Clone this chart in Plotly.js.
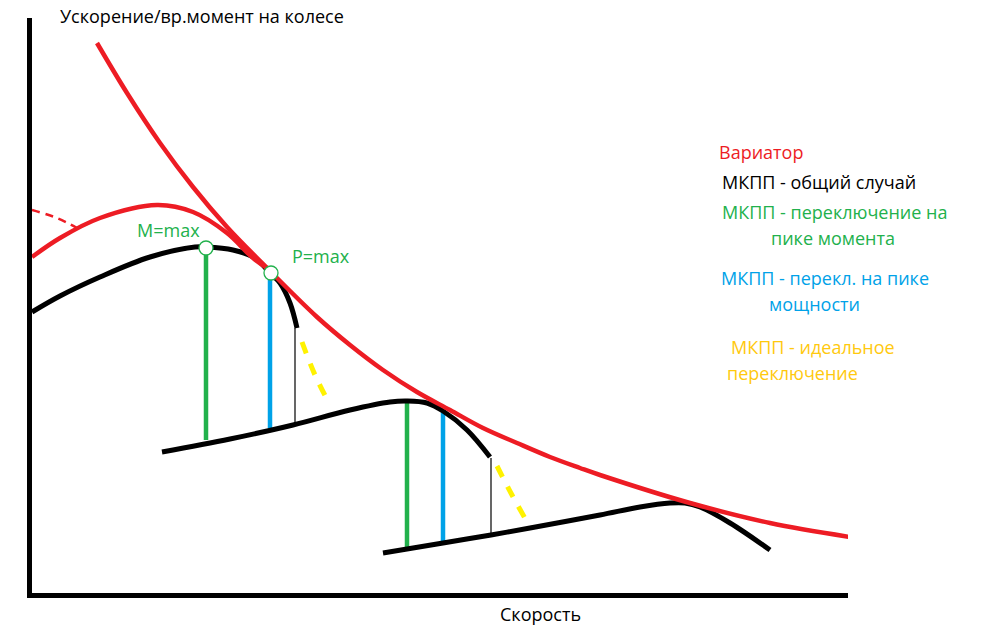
<!DOCTYPE html>
<html><head><meta charset="utf-8">
<script src="https://cdn.plot.ly/plotly-3.0.1.min.js"></script>
<style>html,body{margin:0;padding:0;background:#fff}#chart{width:1008px;height:630px}</style>
</head><body><div id="chart"></div>
<script>
// Units: speed (x) and wheel torque / acceleration (y), arbitrary
const cvtX = [65,95,128,161,195,235,285,318,351,385,418,451,485,518,548,568,658,738,818];
const cvtY = [555,505,455,411,371,330,281,253,228,206,188,170,155,141,130,123,95,75,61];
const cvtLowX = [0,28,68,125,161,195,221,235];
const cvtLowY = [341,360,380,393,386,365,340,330];
const cvtDashX = [0,25,45];
const cvtDashY = [388,380,370];

const gear1X = [0,28,68,118,163,174,201,223,238,248,258,265];
const gear1Y = [286,302,321,341,351,351,348,340,325,315,295,270];
const gear2X = [130,198,261,318,358,375,395,411,435,458];
const gear2Y = [146,159,173,188,196,197,195,187,168,141];
const gear3X = [351,375,411,459,498,568,608,638,653,668,698,738];
const gear3Y = [45,49,55,63,70,83,91,95,95,91,75,48];

// shift points: [speed, bottom, top]
const torqueShiftX = [174,375];  const torqueShiftLo = [158,50];  const torqueShiftHi = [343,196];
const powerShiftX  = [238,411];  const powerShiftLo  = [170,55];  const powerShiftHi  = [318,187];
const commonShiftX = [263,459];  const commonShiftLo = [172,63];  const commonShiftHi = [270,140];

const ideal1X = [270,283,298]; const ideal1Y = [256,223,193];
const ideal2X = [465,480,498]; const ideal2Y = [132,103,71];

const markX = [174,239]; const markY = [350,325];
const markLabels = ["M=max","P=max"];

const yTitle = "Ускорение/вр.момент на колесе";
const xTitle = "Скорость";
const legendTexts = ["Вариатор","МКПП - общий случай","МКПП - переключение на","пике момента","МКПП - перекл. на пике","мощности","МКПП - идеальное","переключение"];

const RED="#ED1C24", GREEN="#22B14C", BLUE="#00A2E8", YEL="#FFF200", GOLD="#FFC90E";
const F = "Open Sans, Noto Sans, sans-serif";
const FS = 18;

function curve(x,y,color,width,dash){
  return {x:x,y:y,mode:'lines',line:{color:color,width:width,shape:'spline',smoothing:1,dash:dash||'solid'},hoverinfo:'skip',showlegend:false};
}
function verticals(xs,lo,hi,color,width){
  const x=[],y=[];
  xs.forEach((v,i)=>{x.push(v,v,null);y.push(lo[i],hi[i],null);});
  return {x:x,y:y,mode:'lines',line:{color:color,width:width},hoverinfo:'skip',showlegend:false};
}

const traces = [
  verticals(torqueShiftX,torqueShiftLo,torqueShiftHi,GREEN,4.5),
  verticals(powerShiftX,powerShiftLo,powerShiftHi,BLUE,4.5),
  verticals(commonShiftX,commonShiftLo,commonShiftHi,'#000',1.2),
  curve(ideal1X,ideal1Y,YEL,5,'12px,11px'),
  curve(ideal2X,ideal2Y,YEL,5,'12px,11px'),
  curve(gear1X,gear1Y,'#000',5),
  curve(gear2X,gear2Y,'#000',5),
  curve(gear3X,gear3Y,'#000',5),
  curve(cvtDashX,cvtDashY,RED,2.5,'8px,6px'),
  curve(cvtLowX,cvtLowY,RED,4.5),
  curve(cvtX,cvtY,RED,4.5),
  {x:markX,y:markY,mode:'markers',marker:{size:14,color:'#fff',line:{color:GREEN,width:1.3}},hoverinfo:'skip',showlegend:false}
];

const legendX = [685,688,688,737,687,735,697,693];
const legendY = [446,416,386,360,320,294,251,225];
const legendC = [RED,'#000',GREEN,GREEN,BLUE,BLUE,GOLD,GOLD];

const annotations = [
  {x:26,xref:'x',y:1.0035,yref:'paper',text:yTitle,xanchor:'left',yanchor:'middle',showarrow:false,font:{family:F,size:FS,color:'#000'}},
  {x:508,xref:'x',y:-0.037,yref:'paper',text:xTitle,xanchor:'center',yanchor:'middle',showarrow:false,font:{family:F,size:FS,color:'#000'}},
  {x:103,y:368,text:markLabels[0],xanchor:'left',yanchor:'middle',showarrow:false,font:{family:F,size:FS,color:GREEN}},
  {x:258,y:342,text:markLabels[1],xanchor:'left',yanchor:'middle',showarrow:false,font:{family:F,size:FS,color:GREEN}}
];
legendTexts.forEach((t,i)=>annotations.push({x:legendX[i],y:legendY[i],text:t,xanchor:'left',yanchor:'middle',showarrow:false,font:{family:F,size:FS,color:legendC[i]}}));

const layout = {
  width:1008,height:630,
  margin:{l:32,r:160,t:18,b:37,pad:0},
  paper_bgcolor:'#fff',plot_bgcolor:'#fff',
  showlegend:false,
  xaxis:{range:[0,816],showgrid:false,zeroline:false,showticklabels:false,ticks:'',showline:true,linecolor:'#000',linewidth:5,fixedrange:true},
  yaxis:{range:[5,580],showgrid:false,zeroline:false,showticklabels:false,ticks:'',showline:true,linecolor:'#000',linewidth:5,fixedrange:true},
  annotations:annotations
};
Plotly.newPlot('chart',traces,layout,{displayModeBar:false,staticPlot:true});
</script></body></html>
